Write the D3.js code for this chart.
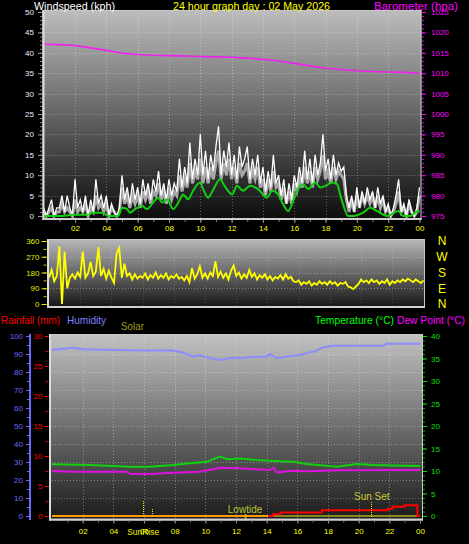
<!DOCTYPE html>
<html><head><meta charset="utf-8">
<script src="https://cdn.jsdelivr.net/npm/d3@7"></script>
<style>
html,body{margin:0;padding:0;background:#000;overflow:hidden;}
svg{display:block;font-family:"Liberation Sans",Arial,sans-serif;}
</style></head><body>
<svg id="c" width="469" height="544"></svg>
<script>
// ---------------- DATA ----------------
const hourTicks = [2,4,6,8,10,12,14,16,18,20,22,24];
const hourLabels = ["02","04","06","08","10","12","14","16","18","20","22","00"];
const windTicks = [0,5,10,15,20,25,30,35,40,45,50];
const baroTicks = [975,980,985,990,995,1000,1005,1010,1015,1020,1025];
const dirTicks = [0,90,180,270,360];
const dirLetters = ["N","W","S","E","N"];
const dirLetterDeg = [360,270,180,90,0];
const humTicks = [0,10,20,30,40,50,60,70,80,90,100];
const rainTicks = [0,5,10,15,20,25,30];
const tempTicks = [0,5,10,15,20,25,30,35,40];

// wind gust (kph), one value every 10 minutes from 00:00 to 24:00
const gustKph = [2,0,2,4,0,2, 2,5,1,5,2,0, 9,2,4,1,5,0, 4,1,9,3,5,2, 5,0,3,1,0,2,
  10,4,7,3,8,4, 7,3,9,5,8,4, 9,6,11,5,8,4, 9,5,8,6,14,7, 12,8,18,9,14,10,
  20,10,16,9,15,11, 17,22,10,16,12,18, 10,15,9,17,12,14, 17,9,14,10,15,8, 12,6,11,7,15,8,
  10,5,9,3,8,4, 10,7,12,8,16,9, 14,8,15,10,13,20, 11,14,9,15,10,13, 11,12,5,2,5,1,
  7,2,6,3,7,4, 6,2,7,3,5,1, 3,0,2,5,9,1, 3,0,4,1,0,2, 7];
// wind speed (kph), every 10 minutes
const speedKph = [1,0,1,2,0,1, 1,3,1,2,1,0, 4,1,2,1,3,0, 2,1,5,2,3,1, 3,0,2,1,0,1,
  7,3,5,2,5,3, 5,2,6,4,6,3, 6,5,8,4,6,3, 6,4,6,5,10,6, 9,7,13,8,11,9,
  14,8,12,8,12,9, 13,16,9,13,10,14, 9,12,8,13,10,11, 13,8,11,9,12,7, 9,5,9,6,11,7,
  8,4,7,3,6,3, 8,6,9,7,12,8, 11,7,12,9,11,15, 9,11,8,12,9,11, 10,9,4,1,4,1,
  5,2,5,3,5,3, 5,2,5,2,4,1, 2,0,1,3,6,1, 2,0,3,1,0,1, 5];
// average wind (kph)
const avgHours = [0,1.04,1.87,2.83,3.15,3.79,4.11,4.75,5.0,5.32,5.51,5.83,6.28,6.6,6.99,7.31,7.56,7.88,8.27,8.71,8.9,9.22,9.54,9.99,10.18,10.5,10.82,11.26,11.58,12.03,12.35,12.73,13.18,13.69,14.26,14.59,14.97,15.29,15.61,15.93,16.25,16.57,16.89,17.34,17.66,17.98,18.42,18.74,18.93,19.12,19.44,19.76,20.4,20.85,21.3,21.93,22.64,22.96,23.41,23.92,24];
const avgKph = [0,0,0.3,0.3,0.8,0.8,0,0,2.0,1.7,0.8,1.7,2.5,1.7,3.3,4.5,3.3,4.1,1.7,4.1,5.3,4.1,6.2,8.2,6.6,4.5,6.4,9.0,7.2,5.3,7.4,6.2,7.4,6.6,4.5,6.2,5.3,2.9,1.2,3.7,6.6,7.8,6.6,8.2,7.0,7.4,8.2,7.8,5.3,2.9,0,0,0.8,2.0,1.2,0,1.2,0,0,1.2,1.0];
// barometer (hPa), hourly
const baroHours = [0,1,2,3,4,5,6,7,8,9,10,11,12,13,14,15,16,17,18,19,20,21,22,23,24];
const baroHpa = [1017.1,1017.0,1016.8,1016.2,1015.6,1014.9,1014.6,1014.4,1014.3,1014.2,1014.1,1014.0,1013.9,1013.7,1013.4,1013.0,1012.4,1011.8,1011.2,1010.9,1010.6,1010.4,1010.3,1010.2,1010.0];
// wind direction (degrees), every 10 minutes
const dirDeg = [150,195,130,160,330,0,300,90, 150,170,145,180,155,300,150,175,240,160,185,325,
  160,200,145,190,150,120,290,320,150,230,160,175,140,170,145,160,150,175,140,165,
  150,180,145,165,150,175,140,160,150,170,145,155,135,160,125,205,145,170,215,150,
  175,145,180,160,245,155,185,150,175,140,190,220,160,180,145,170,150,195,155,175,
  140,165,150,170,140,160,135,155,145,165,140,170,145,155,130,125,135,110,125,115,
  130,105,120,110,130,115,125,110,130,115,125,105,120,115,125,100,95,85,100,115,
  140,125,135,120,140,125,135,115,130,120,140,110,130,120,135,125,140,130,145,135,
  125,140,130,120,135];
// humidity (%)
const humHours = [0,0.96,1.39,2.04,5.74,7.91,8.57,9.22,9.65,10.09,10.96,11.83,12.26,13.13,14.0,14.2,14.66,15.53,16.18,16.6,17.05,17.7,18.35,21.6,21.83,24];
const humPct = [92.2,93.1,93.5,92.6,91.9,91.9,90.7,88.5,89.4,88.1,86.7,88.1,87.6,88.5,88.5,90.0,87.6,88.9,89.4,90.4,91.3,93.7,94.6,94.6,95.7,95.7];
// temperature (°C)
const tempHours = [0,2.48,5.09,6.39,7.91,9.0,10.09,10.96,11.4,12.26,13.35,14.2,15.74,16.6,18.57,19.88,20.96,23.79,24];
const tempC = [11.5,11.33,10.96,10.96,11.33,11.7,12.07,13.19,12.6,12.8,12.44,12.3,12.07,11.56,10.96,11.56,11.33,11.1,11.1];
// dew point (°C)
const dewHours = [0,1.4,3.6,4.9,5.1,6.4,7.9,9.65,10.96,12.26,13.35,14.2,14.44,14.66,15.74,16.6,18.78,24];
const dewC = [10.0,9.85,9.85,9.85,9.33,9.33,9.63,9.85,10.74,10.59,10.37,10.22,10.75,9.7,10.07,9.93,10.15,10.22];
// rainfall (mm), cumulative steps
const rainHours = [14.1,14.4,14.9,17.6,21.9,22.2,23.0,23.83,24];
const rainMm = [0,0.3,0.6,0.95,1.2,1.55,1.8,0,0];
// rain-rate (orange) and solar (olive) at zero
const rateHours = [0,14.1];
const rateVals = [0,0];
const solarHours = [14.1,24];
const solarVals = [0,0];
// events
const eventNames = ["SunRise","Lowtide","Sun Set"];
const eventHours = [5.92,12.59,20.79];
const solarStartHour = 6.5;

// ---------------- DRAW ----------------
const svg = d3.select("#c");
const defs = svg.append("defs");
const tenMin = d3.range(gustKph.length).map(i => i/6);

function grad(id, c1, c2){
  const g = defs.append("linearGradient").attr("id",id).attr("x1",0).attr("y1",0).attr("x2",0).attr("y2",1);
  g.append("stop").attr("offset","0%").attr("stop-color",c1);
  g.append("stop").attr("offset","100%").attr("stop-color",c2);
}
grad("gTop","#bdbdbd","#0c0c0c");
grad("gMid","#b8b8b8","#141414");
grad("gBot","#c2c2c2","#1a1a1a");

function panel(id, x0,y0,x1,y1,gid){
  defs.append("clipPath").attr("id",id).append("rect").attr("x",x0).attr("y",y0).attr("width",x1-x0).attr("height",y1-y0);
  svg.append("rect").attr("x",x0).attr("y",y0).attr("width",x1-x0).attr("height",y1-y0).attr("fill",`url(#${gid})`);
  return svg.append("g").attr("clip-path",`url(#${id})`);
}
function frame(x0,y0,x1,y1){
  svg.append("rect").attr("x",x0+0.5).attr("y",y0+0.5).attr("width",x1-x0-1).attr("height",y1-y0-1)
    .attr("fill","none").attr("stroke","#c8c8c8").attr("stroke-width",1);
  svg.append("line").attr("x1",x0+1).attr("x2",x0+1).attr("y1",y0).attr("y2",y1).attr("stroke","#dcdcdc").attr("stroke-width",2);
  svg.append("line").attr("x1",x0).attr("x2",x1).attr("y1",y1-1).attr("y2",y1-1).attr("stroke","#d0d0d0").attr("stroke-width",2);
}
const gridStyle = sel => sel.attr("stroke","rgba(255,255,255,0.32)").attr("stroke-width",1).attr("stroke-dasharray","1,2");

function styleAxis(g, color, size){
  g.select(".domain").remove();
  g.selectAll("line").attr("stroke",color);
  g.selectAll("text").attr("fill",color).attr("font-size",size).attr("font-family","Liberation Sans, Arial, sans-serif");
  g.attr("font-size",null).attr("font-family",null);
  return g;
}

// scales
const xTop = d3.scaleLinear().domain([0,24]).range([43.7,419.5]);
const yWind = d3.scaleLinear().domain([0,50]).range([216,12]);
const yBaro = d3.scaleLinear().domain([975,1025]).range([216,12]);
const xMid = d3.scaleLinear().domain([0,24]).range([49,423.5]);
const yDir = d3.scaleLinear().domain([0,360]).range([304,241]);
const xBot = d3.scaleLinear().domain([0,24]).range([52,420]);
const yHum = d3.scaleLinear().domain([0,100]).range([516,336]);
const yRain = d3.scaleLinear().domain([0,30]).range([516,336]);
const yTemp = d3.scaleLinear().domain([0,40]).range([516,336]);
const fmtHour = h => hourLabels[hourTicks.indexOf(h)];
const fmtInt = d3.format("d");

// ===== TOP PANEL =====
const T = {x0:42.5,y0:10,x1:421.5,y1:220};
const gT = panel("cTop",T.x0,T.y0,T.x1,T.y1,"gTop");
gT.selectAll(".hg").data(windTicks.slice(1,-1)).join("line").attr("x1",T.x0).attr("x2",T.x1)
  .attr("y1",d=>Math.round(yWind(d))+0.5).attr("y2",d=>Math.round(yWind(d))+0.5).call(gridStyle);
gT.selectAll(".vg").data(hourTicks.slice(0,-1)).join("line").attr("y1",T.y0).attr("y2",T.y1)
  .attr("x1",d=>Math.round(xTop(d))+0.5).attr("x2",d=>Math.round(xTop(d))+0.5).call(gridStyle);
gT.append("path").datum(baroHours.map((h,i)=>[h,baroHpa[i]]))
  .attr("d",d3.line().x(d=>xTop(d[0])).y(d=>yBaro(d[1])))
  .attr("fill","none").attr("stroke","#f020f0").attr("stroke-width",1.6);
gT.append("path").datum(tenMin.map((h,i)=>[h,speedKph[i]]))
  .attr("d",d3.line().x(d=>xTop(d[0])).y(d=>yWind(d[1])))
  .attr("fill","none").attr("stroke","#a8a8a8").attr("stroke-width",3);
gT.append("path").datum(tenMin.map((h,i)=>[h,gustKph[i]]))
  .attr("d",d3.line().x(d=>xTop(d[0])).y(d=>yWind(d[1])))
  .attr("fill","none").attr("stroke","#ffffff").attr("stroke-width",1.3);
gT.append("path").datum(avgHours.map((h,i)=>[h,avgKph[i]]))
  .attr("d",d3.line().curve(d3.curveMonotoneX).x(d=>xTop(d[0])).y(d=>yWind(d[1])))
  .attr("fill","none").attr("stroke","#10d010").attr("stroke-width",2);
frame(T.x0,T.y0,T.x1,T.y1);

// left wind axis
styleAxis(svg.append("g").attr("transform","translate(42,0)")
  .call(d3.axisLeft(yWind).tickValues(d3.range(0,51,1)).tickSize(2).tickFormat("")), "#8a8a8a", 8);
styleAxis(svg.append("g").attr("transform","translate(42,0)")
  .call(d3.axisLeft(yWind).tickValues(windTicks).tickSize(4).tickPadding(4).tickFormat(fmtInt)), "#9a9a9a", 8)
  .selectAll("text").attr("fill","#eeeeff");
// right baro axis
styleAxis(svg.append("g").attr("transform","translate(422,0)")
  .call(d3.axisRight(yBaro).tickValues(d3.range(975,1026,1)).tickSize(2).tickFormat("")), "#e000e0", 8);
styleAxis(svg.append("g").attr("transform","translate(422,0)")
  .call(d3.axisRight(yBaro).tickValues(baroTicks).tickSize(4).tickPadding(5).tickFormat(fmtInt)), "#ff00ff", 8);
// x axis top
styleAxis(svg.append("g").attr("transform","translate(0,220)")
  .call(d3.axisBottom(xTop).tickValues(d3.range(1,24,1)).tickSize(2).tickFormat("")), "#808080", 8);
const axT = styleAxis(svg.append("g").attr("transform","translate(0,220)")
  .call(d3.axisBottom(xTop).tickValues(hourTicks).tickSize(3).tickPadding(2).tickFormat(fmtHour)), "#909090", 8);
axT.selectAll("text").attr("fill","#ffff00");

// ===== MIDDLE PANEL =====
const M = {x0:47,y0:239,x1:425,y1:308};
const gM = panel("cMid",M.x0,M.y0,M.x1,M.y1,"gMid");
gM.selectAll(".hg").data(dirTicks.slice(1,-1)).join("line").attr("x1",M.x0).attr("x2",M.x1)
  .attr("y1",d=>Math.round(yDir(d))+0.5).attr("y2",d=>Math.round(yDir(d))+0.5).call(gridStyle);
gM.selectAll(".vg").data(hourTicks.slice(0,-1)).join("line").attr("y1",M.y0).attr("y2",M.y1)
  .attr("x1",d=>Math.round(xMid(d))+0.5).attr("x2",d=>Math.round(xMid(d))+0.5).call(gridStyle).attr("stroke","rgba(255,255,255,0.15)");
gM.append("path").datum(tenMin.map((h,i)=>[h,dirDeg[i]]))
  .attr("d",d3.line().x(d=>xMid(d[0])).y(d=>yDir(d[1])))
  .attr("fill","none").attr("stroke","#ffff00").attr("stroke-width",1.8);
frame(M.x0,M.y0,M.x1,M.y1);
styleAxis(svg.append("g").attr("transform","translate(46.5,0)")
  .call(d3.axisLeft(yDir).tickValues(d3.range(0,361,45)).tickSize(3).tickFormat("")), "#c8c800", 8);
styleAxis(svg.append("g").attr("transform","translate(46.5,0)")
  .call(d3.axisLeft(yDir).tickValues(dirTicks).tickSize(5).tickPadding(2).tickFormat(fmtInt)), "#e8e800", 8);
svg.selectAll(".dl").data(dirLetters).join("text")
  .attr("x",442).attr("y",(d,i)=>yDir(dirLetterDeg[i])).attr("dy","0.36em")
  .attr("text-anchor","middle").attr("fill","#ffff00").attr("font-size",12).text(d=>d);

// ===== BOTTOM PANEL =====
const B = {x0:49,y0:334,x1:423,y1:520.5};
const gB = panel("cBot",B.x0,B.y0,B.x1,B.y1,"gBot");
gB.selectAll(".hg").data(humTicks.slice(1,-1)).join("line").attr("x1",B.x0).attr("x2",B.x1)
  .attr("y1",d=>Math.round(yHum(d))+0.5).attr("y2",d=>Math.round(yHum(d))+0.5).call(gridStyle);
gB.selectAll(".vg").data(hourTicks.slice(0,-1)).join("line").attr("y1",B.y0).attr("y2",B.y1)
  .attr("x1",d=>Math.round(xBot(d))+0.5).attr("x2",d=>Math.round(xBot(d))+0.5).call(gridStyle);
const lineB = (hs,vs,ys,color,w,curve) => gB.append("path").datum(hs.map((h,i)=>[h,vs[i]]))
  .attr("d",d3.line().curve(curve||d3.curveLinear).x(d=>xBot(d[0])).y(d=>ys(d[1])))
  .attr("fill","none").attr("stroke",color).attr("stroke-width",w);
lineB(humHours,humPct,yHum,"#8c8cff",2);
lineB(tempHours,tempC,yTemp,"#10d010",2);
lineB(dewHours,dewC,yTemp,"#e010e0",2);
lineB(solarHours,solarVals,yRain,"#a8b020",1.5);
lineB(rateHours,rateVals,yRain,"#ff9900",2);
lineB(rainHours,rainMm,yRain,"#ff0000",2,d3.curveStepAfter);
// event markers
const evX = eventHours.map(h=>xBot(h));
gB.append("line").attr("x1",Math.round(evX[0])+0.5).attr("x2",Math.round(evX[0])+0.5).attr("y1",501).attr("y2",517)
  .attr("stroke","#e8e800").attr("stroke-width",1).attr("stroke-dasharray","1,1");
gB.append("line").attr("x1",Math.round(xBot(solarStartHour))+0.5).attr("x2",Math.round(xBot(solarStartHour))+0.5).attr("y1",509).attr("y2",517)
  .attr("stroke","#e8e800").attr("stroke-width",1).attr("stroke-dasharray","1,1");
gB.append("line").attr("x1",Math.round(evX[2])+0.5).attr("x2",Math.round(evX[2])+0.5).attr("y1",502).attr("y2",517)
  .attr("stroke","#e8e800").attr("stroke-width",1).attr("stroke-dasharray","1,1");
gB.append("line").attr("x1",Math.round(evX[1])+0.5).attr("x2",Math.round(evX[1])+0.5).attr("y1",514).attr("y2",521)
  .attr("stroke","#e0b000").attr("stroke-width",1.5);
frame(B.x0,B.y0,B.x1,B.y1);
svg.append("text").attr("x",evX[1]).attr("y",513).attr("text-anchor","middle").attr("fill","#b4c832").attr("font-size",10).text(eventNames[1]);
svg.append("text").attr("x",evX[2]+1).attr("y",499.5).attr("text-anchor","middle").attr("fill","#c8c832").attr("font-size",10).text(eventNames[2]);

// humidity axis
const axH = svg.append("g").attr("transform","translate(30,0)")
  .call(d3.axisLeft(yHum).tickValues(humTicks).tickSize(4).tickPadding(3).tickFormat(fmtInt));
axH.attr("font-size",null).attr("font-family",null);
axH.selectAll("text").attr("fill","#6a6aff").attr("font-size",8);
axH.selectAll("line").attr("stroke","#6a6aff");
axH.select(".domain").attr("stroke","#6a6aff").attr("stroke-width",2).attr("d","M0,334V520");
styleAxis(svg.append("g").attr("transform","translate(30,0)")
  .call(d3.axisLeft(yHum).tickValues(d3.range(5,100,10)).tickSize(3).tickFormat("")), "#6a6aff", 8);
// rainfall axis
styleAxis(svg.append("g").attr("transform","translate(48.5,0)")
  .call(d3.axisLeft(yRain).tickValues(d3.range(0,30.1,2.5)).tickSize(3).tickFormat("")), "#e00000", 8);
styleAxis(svg.append("g").attr("transform","translate(48.5,0)")
  .call(d3.axisLeft(yRain).tickValues(rainTicks).tickSize(4).tickPadding(2).tickFormat(fmtInt)), "#ff0000", 8);
// temperature axis
styleAxis(svg.append("g").attr("transform","translate(423,0)")
  .call(d3.axisRight(yTemp).tickValues(d3.range(0,41,1)).tickSize(2).tickFormat("")), "#00b000", 8);
styleAxis(svg.append("g").attr("transform","translate(423,0)")
  .call(d3.axisRight(yTemp).tickValues(tempTicks).tickSize(4).tickPadding(4).tickFormat(fmtInt)), "#00e000", 8);
// bottom x axis
styleAxis(svg.append("g").attr("transform","translate(0,520.5)")
  .call(d3.axisBottom(xBot).tickValues(d3.range(1,24,1)).tickSize(2).tickFormat("")), "#808080", 8);
const axB = styleAxis(svg.append("g").attr("transform","translate(0,520.5)")
  .call(d3.axisBottom(xBot).tickValues(hourTicks).tickSize(3).tickPadding(5).tickFormat(fmtHour)), "#909090", 8);
axB.selectAll("text").attr("fill","#ffff00");
svg.append("text").attr("x",evX[0]+0.5).attr("y",534.5).attr("text-anchor","middle").attr("fill","#e8e800").attr("font-size",8.5).text(eventNames[0]);

// ===== HEADERS =====
const hdr = (x,y,txt,color,len) => svg.append("text").attr("x",x).attr("y",y).attr("fill",color)
  .attr("font-size",11).attr("textLength",len).attr("lengthAdjust","spacingAndGlyphs").text(txt);
hdr(34,9.5,"Windspeed (kph)","#ffffff",81);
hdr(173,9.5,"24 hour graph day : 02 May 2026","#ffff00",157);
hdr(374,9.5,"Barometer (hpa)","#ff00ff",84);
hdr(1,324,"Rainfall (mm)","#ff0000",59);
hdr(67,324,"Humidity","#8080ff",39);
hdr(121,330,"Solar","#a09c20",23);
hdr(315,324,"Temperature (°C)","#00ff00",79);
hdr(397,324,"Dew Point (°C)","#ff00ff",68);
</script>
</body></html>
